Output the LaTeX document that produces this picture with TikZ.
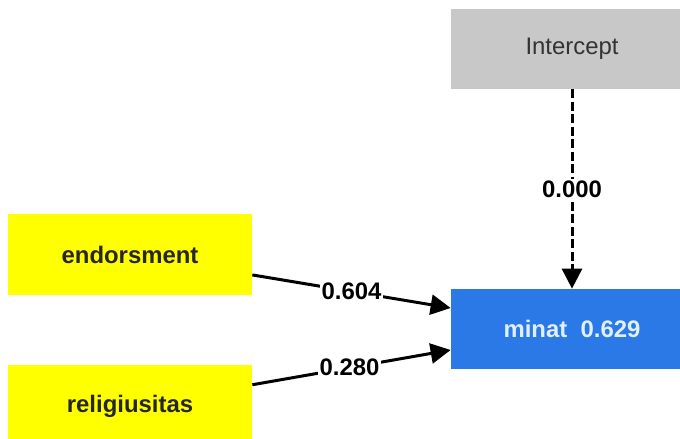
\documentclass[tikz,border=0pt]{standalone}
\usepackage{fontspec}
\newfontfamily\pathfont{Liberation Sans}
\usepackage{tikz}
\usetikzlibrary{arrows.meta, positioning, calc}

\definecolor{icptgray}{RGB}{200,200,200}
\definecolor{endoblue}{RGB}{43,121,230}
\definecolor{endotext}{RGB}{225,240,255}
\definecolor{exoyellow}{RGB}{255,255,0}

\begin{document}
\begin{tikzpicture}[
            exo/.style={fill=exoyellow, minimum width=4.88cm, minimum height=1.62cm, inner sep=0pt, font=\pathfont\fontsize{13.6}{16}\selectfont\bfseries, text=black!85},
            endo/.style={fill=endoblue, minimum width=4.84cm, minimum height=1.6cm, inner sep=0pt, font=\pathfont\fontsize{13.6}{16}\selectfont\bfseries, text=endotext},
            icpt/.style={fill=icptgray, minimum width=4.84cm, minimum height=1.6cm, inner sep=0pt, font=\pathfont\fontsize{13.6}{16}\selectfont, text=black!80},
            path/.style={-{Triangle[length=0.4cm, width=0.4cm]}, line width=1.7pt},
            coef/.style={fill=white, inner sep=1pt, font=\pathfont\fontsize{13.6}{16}\selectfont\bfseries}
        ]
        \clip (0,0) rectangle (13.6,8.78);
        % --- boxes ---
        \node[icpt] (icpt) at (11.44, 7.8) {Intercept};
        \node[endo] (minat) at (11.44, 2.2) {minat\ \ 0.629};
        \node[exo] (endors) at (2.6, 3.69) {endorsment};
        \node[exo] (relig) at (2.6, 0.66) {religiusitas};

        % --- paths ---
        \draw[path, dash pattern=on 0.18cm off 0.07cm] (icpt.south)--(minat.north)
            node[coef, midway] (c0) {0.000};
        \draw[path] ($(endors.south east)!0.25!(endors.north east)$)--($(minat.north west)!0.24!(minat.south west)$)
            node[coef, pos=0.5] (c1) {0.604};
        \draw[path] ($(relig.north east)!0.24!(relig.south east)$)--($(minat.south west)!0.24!(minat.north west)$)
            node[coef, pos=0.49] (c2) {0.280};
        \end{tikzpicture}
\end{document}
